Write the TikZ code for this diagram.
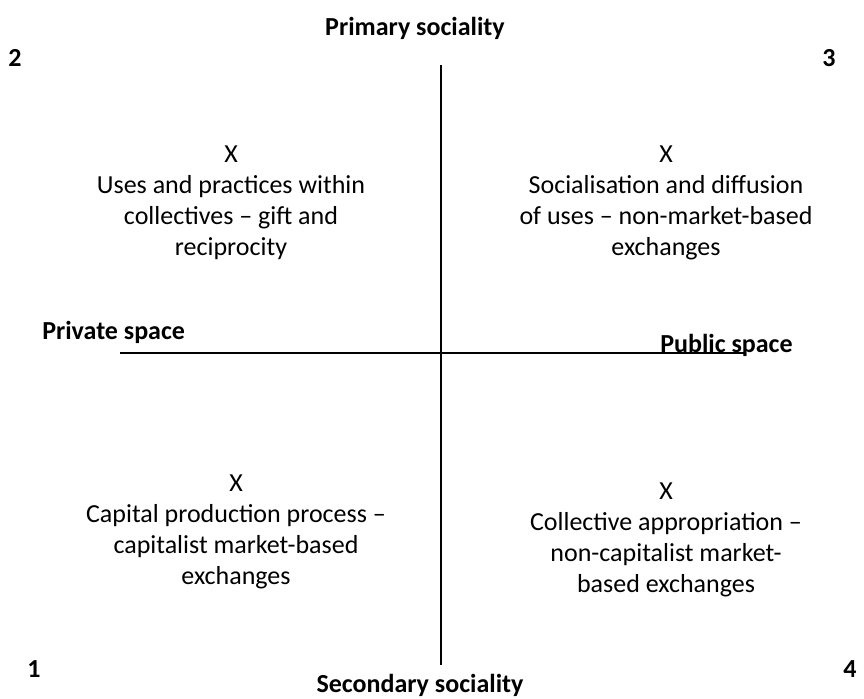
\documentclass[tikz,border=0pt]{standalone}
\usepackage{fontspec}
\setmainfont{Carlito}
\usetikzlibrary{calc}

\begin{document}
\begin{tikzpicture}[x=0.75pt, y=-0.75pt,
        axis_style/.style={draw=black, line width=0.9pt},
        label_style/.style={font=\fontsize{19.5}{23}\selectfont\bfseries, inner sep=0pt},
        num_style/.style={font=\fontsize{19.5}{23}\selectfont\bfseries, inner sep=0pt},
        quad_style/.style={align=center, font=\fontsize{19.5}{23.2}\selectfont, inner sep=0pt}]

        \useasboundingbox (0,0) rectangle (864,699);

        % axis end points
        \coordinate (top) at (441,65);
        \coordinate (bottom) at (441,665);
        \coordinate (left) at (120,353);
        \coordinate (right) at (745,353);

        \draw [axis_style] (top) -- (bottom);
        \draw [axis_style] (left) -- (right);

        % axis labels
        \node [label_style](primary) at (415,28) {Primary sociality};
        \node [label_style](secondary) at (420,685) {Secondary sociality};
        \node [label_style, anchor=west](private) at (42,332) {Private space};
        \node [label_style, anchor=west](public) at (660,345) {Public space};

        % corner numbers
        \node [num_style](n2) at (15,58) {2};
        \node [num_style](n3) at (829,58) {3};
        \node [num_style](n1) at (34,669) {1};
        \node [num_style](n4) at (850,669) {4};

        % quadrants
        \node [quad_style, anchor=north](q2) at (231,146) {X\\Uses and practices within\\collectives -- gift and\\reciprocity};
        \node [quad_style, anchor=north](q3) at (666,146) {X\\Socialisation and diffusion\\of uses -- non-market-based\\exchanges};
        \node [quad_style, anchor=north](q1) at (236,475) {X\\Capital production process --\\capitalist market-based\\exchanges};
        \node [quad_style, anchor=north](q4) at (666,483) {X\\Collective appropriation --\\non-capitalist market-\\based exchanges};

        \end{tikzpicture}
\end{document}
